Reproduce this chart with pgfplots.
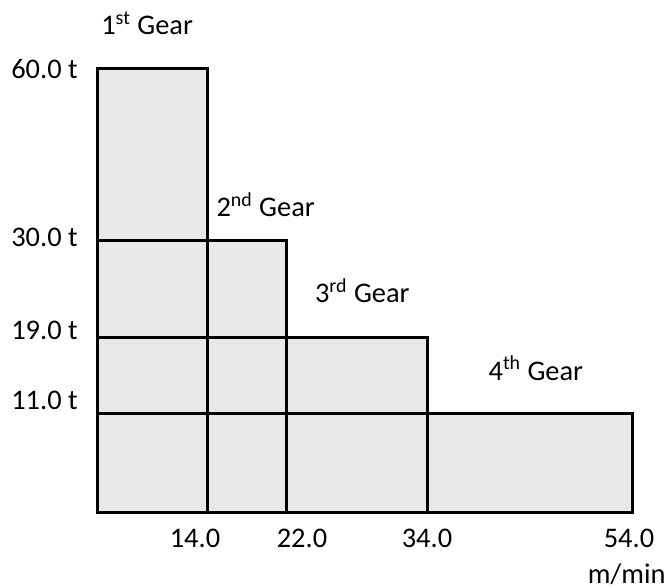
\documentclass[border=0pt]{standalone}
\usepackage{fontspec}
\setmainfont{Carlito}
\usepackage{pgfplots}
\pgfplotsset{compat=1.18}
\definecolor{boxfill}{HTML}{E8E8E8}
\newcommand{\lbl}{\fontsize{14.2}{17}\selectfont}
\begin{document}
\begin{tikzpicture}
\begin{axis}[
  scale only axis, width=267pt, height=222pt,
  xmin=0, xmax=54, ymin=0, ymax=60,
  x coord trafo/.code={\pgfmathparse{ifthenelse(#1<=14, #1*7.857143, ifthenelse(#1<=22, 110+(#1-14)*9.875, ifthenelse(#1<=34, 189+(#1-22)*11.75, 330+(#1-34)*10.2)))}},
  y coord trafo/.code={\pgfmathparse{ifthenelse(#1<=11, #1*9, ifthenelse(#1<=19, 99+(#1-11)*9.5, ifthenelse(#1<=30, 175+(#1-19)*8.818182, 272+(#1-30)*5.733333)))}},
  axis line style={draw=none}, major tick length=0pt,
  xtick={14,22,34,54}, ytick={11,19,30,60},
  xticklabels={\makebox[0pt]{\hspace*{-13pt}14.0},\makebox[0pt]{\hspace*{15pt}22.0},\makebox[0pt]{\hspace*{-1pt}34.0},\makebox[0pt]{\hspace*{-3pt}54.0}},
  yticklabels={\raisebox{2pt}{11.0 t},\raisebox{-1pt}{19.0 t},\raisebox{-3pt}{30.0 t},\raisebox{-5pt}{60.0 t}},
  xticklabel style={anchor=base, inner sep=0pt, yshift=-17.5pt},
  yticklabel style={anchor=base east, inner sep=0pt, xshift=-10pt},
  ticklabel style={font=\lbl},
  clip=false,
]
% fills
\addplot[draw=none, fill=boxfill] coordinates {(0,0) (14,0) (14,60) (0,60)} --cycle;
\addplot[draw=none, fill=boxfill] coordinates {(0,0) (22,0) (22,30) (0,30)} --cycle;
\addplot[draw=none, fill=boxfill] coordinates {(0,0) (34,0) (34,19) (0,19)} --cycle;
\addplot[draw=none, fill=boxfill] coordinates {(0,0) (54,0) (54,11) (0,11)} --cycle;
% outlines
\addplot[black, line width=1.5pt] coordinates {(0,0) (14,0) (14,60) (0,60)} --cycle;
\addplot[black, line width=1.5pt] coordinates {(0,0) (22,0) (22,30) (0,30)} --cycle;
\addplot[black, line width=1.5pt] coordinates {(0,0) (34,0) (34,19) (0,19)} --cycle;
\addplot[black, line width=1.5pt] coordinates {(0,0) (54,0) (54,11) (0,11)} --cycle;
\node[anchor=base, font=\lbl] at (rel axis cs:0.092,1.0766) {1\textsuperscript{st} Gear};
\node[anchor=base, font=\lbl] at (rel axis cs:0.314,0.667) {2\textsuperscript{nd} Gear};
\node[anchor=base, font=\lbl] at (rel axis cs:0.495,0.473) {3\textsuperscript{rd} Gear};
\node[anchor=base, font=\lbl] at (rel axis cs:0.820,0.2995) {4\textsuperscript{th} Gear};
\node[anchor=base, font=\lbl] at (rel axis cs:0.99,-0.158) {m/min};
\coordinate (bl) at (rel axis cs:-0.18352,-0.16892);
\coordinate (tr) at (rel axis cs:1.06180,1.15541);
\end{axis}
\pgfresetboundingbox
\useasboundingbox (bl) rectangle (tr);
\end{tikzpicture}
\end{document}
